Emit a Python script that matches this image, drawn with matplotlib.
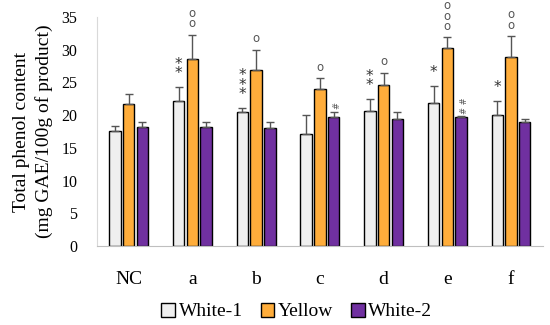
import numpy as np
import matplotlib
matplotlib.use('Agg')
from matplotlib import pyplot as plt
from matplotlib.patches import Patch

categories = ['NC', 'a', 'b', 'c', 'd', 'e', 'f']
series = ['White-1', 'Yellow', 'White-2']

white1 = [17.6, 22.1, 20.5, 17.1, 20.6, 21.8, 20.0]
yellow = [21.7, 28.5, 26.9, 24.0, 24.6, 30.3, 28.9]
white2 = [18.2, 18.2, 18.1, 19.7, 19.4, 19.7, 19.0]

white1_err = [0.8, 2.2, 0.6, 2.9, 1.9, 2.7, 2.2]
yellow_err = [1.5, 3.8, 3.1, 1.7, 1.9, 1.6, 3.2]
white2_err = [0.8, 0.8, 0.9, 0.8, 1.1, 0.1, 0.4]

# (category, series, symbol, count)
marks = [
    ('a', 0, '*', 2), ('a', 1, 'o', 2),
    ('b', 0, '*', 3), ('b', 1, 'o', 1),
    ('c', 1, 'o', 1), ('c', 2, '#', 1),
    ('d', 0, '*', 2), ('d', 1, 'o', 1),
    ('e', 0, '*', 1), ('e', 1, 'o', 3), ('e', 2, '#', 2),
    ('f', 0, '*', 1), ('f', 1, 'o', 2),
]

colors = ['#EFEFEF', '#FFAD3B', '#7030A0']
serif = ['Liberation Serif', 'DejaVu Serif']

fig = plt.figure(figsize=(5.5, 3.25), dpi=100)
ax = fig.add_axes([0.176, 0.243, 0.811, 0.705])

x = np.arange(len(categories))
w = 0.18
step = 0.215
vals = [white1, yellow, white2]
errs = [white1_err, yellow_err, white2_err]
for i, (v, e) in enumerate(zip(vals, errs)):
    xs = x + (i - 1) * step
    ax.bar(xs, v, width=w, color=colors[i], edgecolor='black', linewidth=1.0,
           label=series[i], zorder=2)
    lower = np.zeros(len(e))
    ax.errorbar(xs, v, yerr=[lower, e], fmt='none', ecolor='#555555',
                elinewidth=1.0, capsize=3, capthick=1.0, zorder=3)

# significance marks, stacked vertically as one text each
for cat, s, sym, n in marks:
    ci = categories.index(cat)
    xs = ci + (s - 1) * step
    top = vals[s][ci] + errs[s][ci]
    if sym == '*':
        ax.annotate('\n'.join(['*'] * n), (xs, top), xytext=(0, 4), textcoords='offset points',
                    ha='center', va='bottom', fontsize=11, color='#333333',
                    family='DejaVu Sans', linespacing=0.55)
    elif sym == 'o':
        ax.annotate('\n'.join(['o'] * n), (xs, top), xytext=(0, 3), textcoords='offset points',
                    ha='center', va='bottom', fontsize=8.5, color='#555555',
                    family='DejaVu Sans', linespacing=0.75)
    else:
        ax.annotate(' '.join(['#'] * n), (xs + 0.05, top), xytext=(0, 2), textcoords='offset points',
                    ha='center', va='bottom', fontsize=6, color='#555555',
                    rotation=90, family='DejaVu Sans')

ax.set_xlim(-0.5, len(categories) - 0.5)
ax.set_ylim(0, 35)
ax.set_yticks(range(0, 36, 5))
ax.set_xticks(x)
ax.set_xticklabels(categories, family=serif, fontsize=14)
for lab in ax.get_yticklabels():
    lab.set_family(serif)
    lab.set_fontsize(11.5)
ax.tick_params(axis='both', length=0)
ax.tick_params(axis='x', pad=18)
ax.tick_params(axis='y', pad=14)
for side in ['top', 'right']:
    ax.spines[side].set_visible(False)
ax.spines['left'].set_color('#D9D9D9')
ax.spines['bottom'].set_color('#BFBFBF')

ax.set_ylabel('Total phenol content\n(mg GAE/100g of product)', family=serif,
              fontsize=14, labelpad=6, linespacing=1.35)

handles = [Patch(facecolor=colors[i], edgecolor='black', label=series[i]) for i in range(3)]
fig.legend(handles=handles, loc='lower center', bbox_to_anchor=(0.54, -0.04), ncol=3,
           frameon=False, prop={'family': serif, 'size': 14},
           handlelength=0.7, handleheight=0.7, handletextpad=0.2, columnspacing=0.9)

plt.savefig('out.png', dpi=100)
